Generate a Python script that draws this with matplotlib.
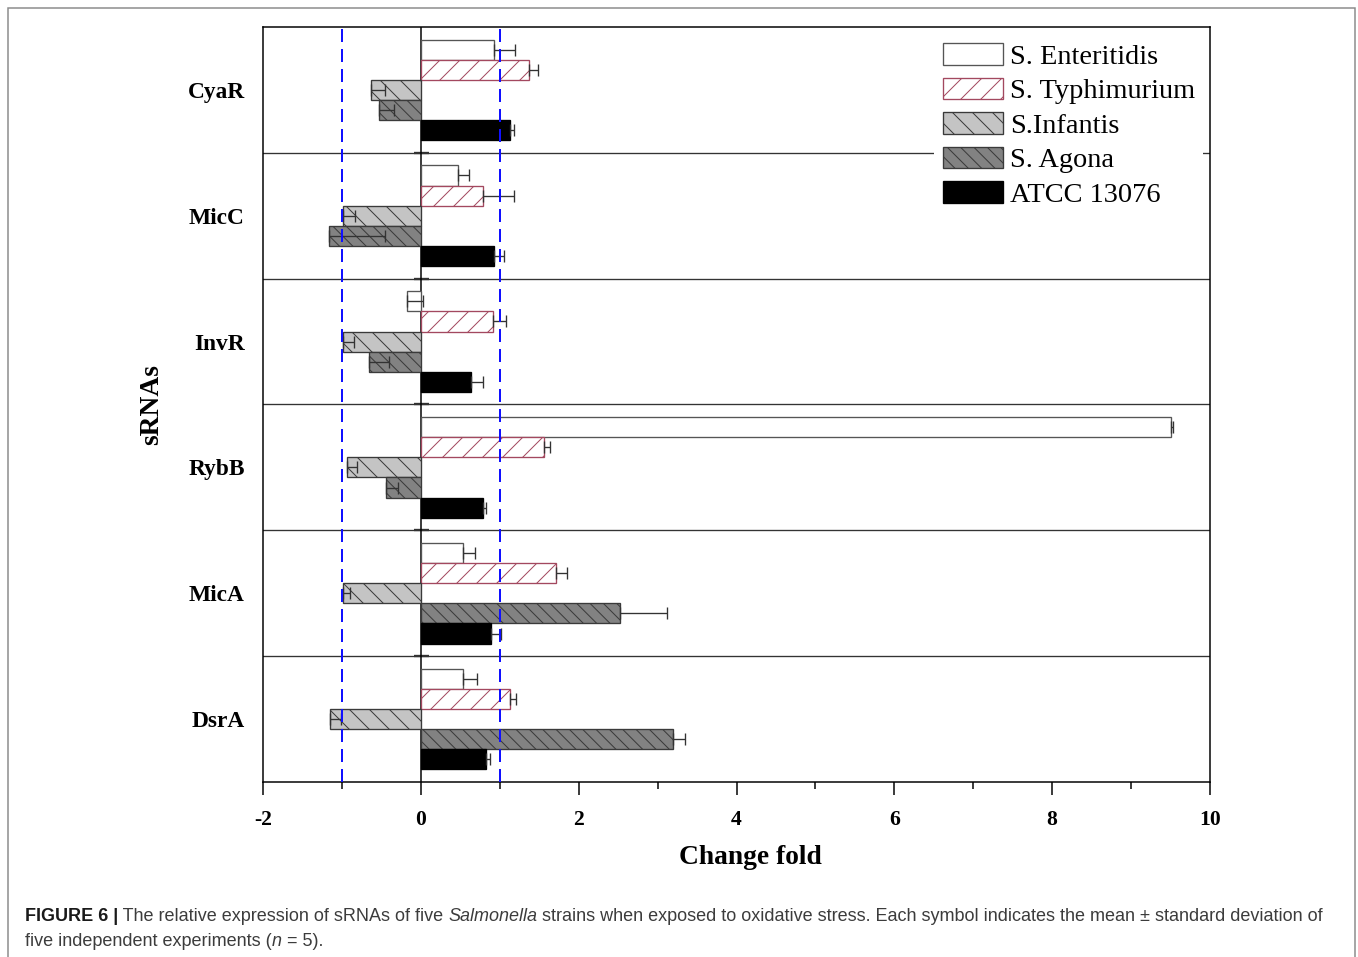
import numpy as np
import matplotlib
matplotlib.use("Agg")
import matplotlib.pyplot as plt
from matplotlib.patches import Rectangle

# sRNA expression data (mean change fold, upper SD)
srnas = ["CyaR", "MicC", "InvR", "RybB", "MicA", "DsrA"]
strains = ["S. Enteritidis", "S. Typhimurium", "S.Infantis", "S. Agona", "ATCC 13076"]

enteritidis = [0.93, 0.47, -0.17, 9.50, 0.53, 0.54]
enteritidis_sd = [0.26, 0.14, 0.20, 0.03, 0.16, 0.17]
typhimurium = [1.37, 0.79, 0.92, 1.56, 1.71, 1.13]
typhimurium_sd = [0.12, 0.39, 0.16, 0.08, 0.14, 0.07]
infantis = [-0.63, -0.99, -0.98, -0.94, -0.98, -1.15]
infantis_sd = [0.17, 0.15, 0.13, 0.13, 0.08, 0.14]
agona = [-0.53, -1.16, -0.66, -0.44, 2.52, 3.19]
agona_sd = [0.19, 0.70, 0.26, 0.15, 0.60, 0.16]
atcc = [1.13, 0.93, 0.64, 0.79, 0.89, 0.82]
atcc_sd = [0.05, 0.13, 0.15, 0.04, 0.12, 0.06]

values = [enteritidis, typhimurium, infantis, agona, atcc]
errors = [enteritidis_sd, typhimurium_sd, infantis_sd, agona_sd, atcc_sd]

W, H, DPI = 1358, 957, 120
plt.rcParams["hatch.linewidth"] = 0.6
serif = ["Liberation Serif", "DejaVu Serif"]

fig = plt.figure(figsize=(W / DPI, H / DPI), dpi=DPI)
ax = fig.add_axes([263 / W, 1 - 782 / H, (1210 - 263) / W, (782 - 27) / H])

styles = [
    dict(facecolor="white", edgecolor="#555555", hatch=None),
    dict(facecolor="white", edgecolor="#a3485f", hatch="//"),
    dict(facecolor="#c4c4c4", edgecolor="#3a3a3a", hatch="\\\\"),
    dict(facecolor="#828282", edgecolor="#3a3a3a", hatch="\\\\\\"),
    dict(facecolor="black", edgecolor="black", hatch=None),
]

n = len(srnas)
centers = np.arange(n)[::-1].astype(float)
bar_h = 0.16
offsets = [2 * bar_h, bar_h, 0, -bar_h, -2 * bar_h]

handles = []
for vals, sd, st, off, name in zip(values, errors, styles, offsets, strains):
    y = centers + off
    b = ax.barh(y, vals, height=bar_h, linewidth=0.8, zorder=3, label=name, **st)
    handles.append(b)
    ax.errorbar(vals, y, xerr=[np.zeros(n), sd], fmt="none", ecolor="#333333",
                elinewidth=0.8, capsize=3.6, capthick=0.8, zorder=4)

# group separators and zero / threshold lines
for k in range(n - 1):
    ax.axhline(k + 0.5, color="#333333", linewidth=0.8, zorder=1)
ax.plot(np.zeros(n - 1), np.arange(n - 1) + 0.5, linestyle="none", marker="_",
        markersize=9, markeredgewidth=1.4, color="#333333", zorder=2)
ax.axvline(0, color="black", linewidth=0.9, zorder=2)
for xv in (-1, 1):
    ax.axvline(xv, color="#1010ff", linewidth=1.2, linestyle=(0, (6.5, 3.5)), zorder=5)

ax.set_xlim(-2, 10)
ax.set_ylim(-0.5, n - 0.5)
ax.set_yticks(centers)
ax.set_yticklabels(srnas, fontfamily=serif, fontweight="bold", fontsize=14)
ax.tick_params(axis="y", length=0, pad=11)
ax.set_xticks(np.arange(-2, 11, 2))
ax.set_xticks(np.arange(-1, 10, 2), minor=True)
ax.set_xticklabels([str(v) for v in range(-2, 11, 2)], fontfamily=serif,
                   fontweight="bold", fontsize=13)
ax.tick_params(axis="x", which="major", length=7.8, width=0.9, pad=9)
ax.tick_params(axis="x", which="minor", length=4.2, width=0.9)
for s in ax.spines.values():
    s.set_linewidth(0.9)

ax.set_xlabel("Change fold", fontfamily=serif, fontweight="bold", fontsize=16.5, labelpad=9)
ax.xaxis.label.set_x((750 - 263) / (1210 - 263))
ax.set_ylabel("sRNAs", fontfamily=serif, fontweight="bold", fontsize=16.5, labelpad=14)

leg = ax.legend(handles=handles, loc="upper left",
                bbox_to_anchor=(934 / W, 1 - 35 / H), bbox_transform=fig.transFigure,
                prop={"family": serif, "size": 17}, frameon=True, fancybox=False,
                edgecolor="none", facecolor="white", framealpha=1,
                borderpad=0.3, borderaxespad=0, handlelength=2.12, handleheight=0.78,
                handletextpad=0.25, labelspacing=0.28)
leg.set_zorder(6)

# outer frame
fig.patches.append(Rectangle((8 / W, -0.1), (1355 - 8) / W, 1.1 - 8 / H,
                             transform=fig.transFigure, fill=False,
                             edgecolor="#8a8a8a", linewidth=0.9))

# caption with mixed styles
fig.canvas.draw()
renderer = fig.canvas.get_renderer()
cap_font = ["Liberation Sans", "DejaVu Sans"]


def draw_runs(runs, x0, y0):
    x = x0
    for txt, kw in runs:
        t = fig.text(x / W, 1 - y0 / H, txt, fontfamily=cap_font, fontsize=10.8,
                     va="baseline", ha="left", **kw)
        bb = t.get_window_extent(renderer)
        x += bb.width


grey = dict(color="#3c3c3c")
draw_runs([("FIGURE 6 |", dict(fontweight="bold", color="#1a1a1a")),
           (" The relative expression of sRNAs of five ", grey),
           ("Salmonella", dict(style="italic", **grey)),
           (" strains when exposed to oxidative stress. Each symbol indicates the mean \u00b1 standard deviation of", grey)],
          25, 921)
draw_runs([("five independent experiments (", grey),
           ("n", dict(style="italic", **grey)),
           (" = 5).", grey)],
          25, 946)

fig.savefig("out.png", dpi=DPI)
